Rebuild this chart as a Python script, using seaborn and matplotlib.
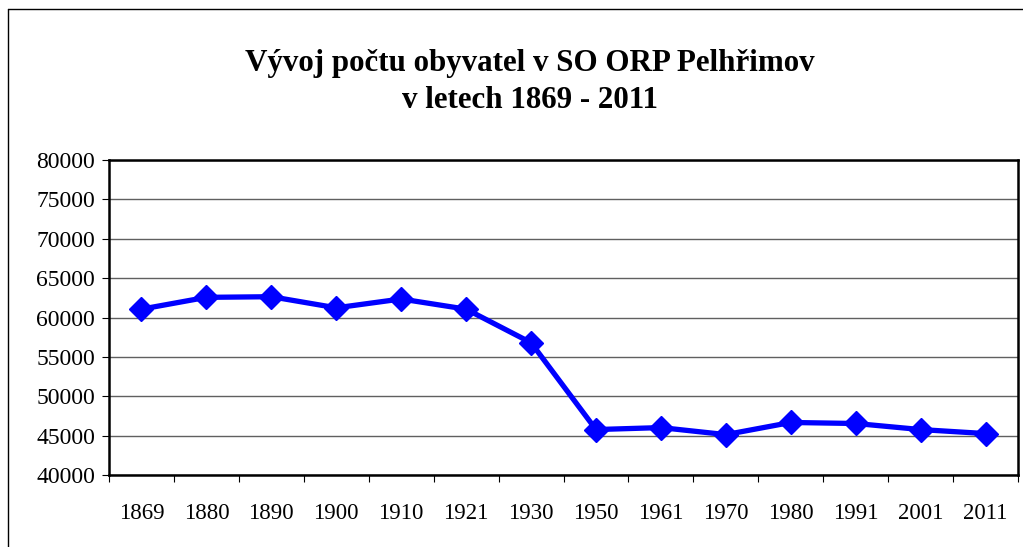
import matplotlib
matplotlib.use("Agg")
import matplotlib.pyplot as plt
from matplotlib.lines import Line2D
from matplotlib.ticker import FixedLocator, MultipleLocator
import seaborn as sns
import pandas as pd

years = ["1869", "1880", "1890", "1900", "1910", "1921", "1930",
         "1950", "1961", "1970", "1980", "1991", "2001", "2011"]
population = [61060, 62560, 62640, 61230, 62350, 61060, 56800,
              45770, 46020, 45130, 46670, 46540, 45770, 45260]
title_text = "Vývoj počtu obyvatel v SO ORP Pelhřimov\nv letech 1869 - 2011"

df = pd.DataFrame({"rok": years, "obyvatel": population})

sns.set_style("white")
plt.rcParams["font.family"] = ["Liberation Serif", "DejaVu Serif"]
plt.rcParams["text.color"] = "black"
plt.rcParams["xtick.color"] = "black"
plt.rcParams["ytick.color"] = "black"
plt.rcParams["xtick.labelcolor"] = "black"
plt.rcParams["ytick.labelcolor"] = "black"

fig = plt.figure(figsize=(10.23, 5.47), dpi=100)
ax = fig.add_axes([109/1023, 1-475/547, 909/1023, 315/547])

sns.lineplot(data=df, x="rok", y="obyvatel", ax=ax, sort=False,
             color="#0000FF", linewidth=3.8, marker="D", markersize=12,
             markeredgecolor="#0000FF", markeredgewidth=1)

ax.set_xlim(-0.5, len(years) - 0.5)
ax.set_ylim(40000, 80000)
ax.yaxis.set_major_locator(MultipleLocator(5000))
ax.grid(axis="y", color="#606060", linewidth=1)
ax.set_axisbelow(True)
ax.set_xlabel("")
ax.set_ylabel("")

for s in ax.spines.values():
    s.set_color("black")
    s.set_linewidth(1.8)

ax.xaxis.set_minor_locator(FixedLocator([i - 0.5 for i in range(len(years) + 1)]))
ax.tick_params(axis="x", which="major", length=0, pad=20, labelsize=16.5)
ax.tick_params(axis="x", which="minor", length=5, width=0.8, color="black", bottom=True)
ax.tick_params(axis="y", which="major", length=5, width=0.8, color="black",
               left=True, pad=5, labelsize=17)

fig.text(530/1023, 1-82/547, title_text, ha="center", va="center",
         fontsize=22.3, fontweight="bold", linespacing=1.32, color="black")

fig.add_artist(Line2D([8/1023, 8/1023], [0, 1-9/547], transform=fig.transFigure,
                      color="black", linewidth=1))
fig.add_artist(Line2D([8/1023, 1], [1-9/547, 1-9/547], transform=fig.transFigure,
                      color="black", linewidth=1))

fig.savefig("out.png", dpi=100)
